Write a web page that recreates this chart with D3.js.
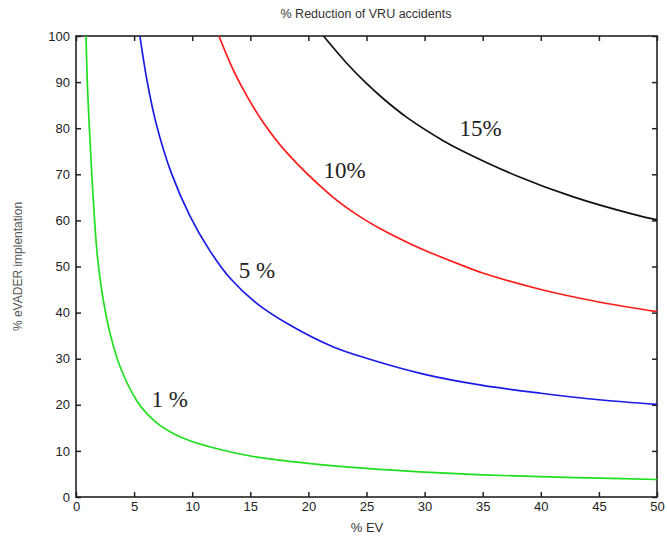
<!DOCTYPE html>
<html>
<head>
<meta charset="utf-8">
<script src="https://cdnjs.cloudflare.com/ajax/libs/d3/7.8.5/d3.min.js"></script>
<style>
  body { margin: 0; background: #fff; }
  .tick text { font-family: Arial, "Liberation Sans", sans-serif; font-size: 13px; fill: #222; }
</style>
</head>
<body>
<svg id="chart" width="667" height="547"></svg>
<script>
// curve data: [% EV, % eVADER implementation]
const curve1 = [[0.86,100],[0.97,90],[1.15,80],[1.36,70],[1.6,60],[1.85,52],[2.35,42.7],[2.93,35.5],[3.79,28.3],
  [5.2,21.0],[6.2,17.8],[7.2,15.6],[8.5,13.6],[9.8,12.2],[12.4,10.3],[15,8.9],[20,7.3],[25,6.2],[30,5.4],[35,4.8],
  [40,4.4],[45,4.1],[50,3.8]];
const curve5 = [[5.5,100],[6.1,90.5],[6.9,81],[8.2,70.3],[9.8,61],[11.5,53.5],[13.25,47.5],[15.55,42.0],[18.4,37.3],
  [22.1,32.6],[25,30.1],[30,26.6],[35,24.2],[40,22.5],[45,21.1],[50,20.1]];
const curve10 = [[12.3,100],[13.5,92.8],[14.7,87.0],[16.1,81.3],[18.1,74.8],[21.9,65.5],[24.2,61.2],[26.4,57.9],
  [28.7,55.0],[30.5,53.0],[33.9,49.6],[35,48.6],[40,45.0],[45,42.3],[50,40.2]];
const curve15 = [[21.3,100],[23.3,94.1],[25,89.7],[26.4,86.5],[28.5,82.3],[31.6,77.3],[33,75.4],[37.9,69.7],
  [42.8,65.1],[48,61.3],[50,60.1]];

const seriesNames = ["1 %", "5 %", "10%", "15%"];
const seriesColors = ["#1ee01e", "#1a1ae8", "#ff1a1a", "#111111"];
const seriesData = [curve1, curve5, curve10, curve15];
// label anchor positions in data units
const labelPos = [[6.5, 19.6], [14.0, 47.6], [21.3, 69.2], [33.0, 78.3]];

const xTicks = d3.range(0, 51, 5);
const yTicks = d3.range(0, 101, 10);

const margin = {top: 36, right: 10, bottom: 50, left: 76};
const width = 667, height = 547;

const svg = d3.select('#chart');

const x = d3.scaleLinear().domain([0, 50]).range([margin.left, width - margin.right]);
const y = d3.scaleLinear().domain([0, 100]).range([height - margin.bottom, margin.top]);

// axes with inward ticks
svg.append('g')
    .attr('transform', `translate(0, ${y(0)})`)
    .call(d3.axisBottom(x).tickValues(xTicks).tickSizeInner(-5).tickSizeOuter(0).tickPadding(5))
    .call(g => g.select('.domain').remove());
svg.append('g')
    .attr('transform', `translate(${x(0)}, 0)`)
    .call(d3.axisLeft(y).tickValues(yTicks).tickSizeInner(-5).tickSizeOuter(0).tickPadding(6))
    .call(g => g.select('.domain').remove());
svg.append('g')
    .attr('transform', `translate(0, ${y(100)})`)
    .call(d3.axisTop(x).tickValues(xTicks).tickSizeInner(-5).tickSizeOuter(0).tickFormat(''))
    .call(g => g.select('.domain').remove());
svg.append('g')
    .attr('transform', `translate(${x(50)}, 0)`)
    .call(d3.axisRight(y).tickValues(yTicks).tickSizeInner(-5).tickSizeOuter(0).tickFormat(''))
    .call(g => g.select('.domain').remove());

svg.selectAll('.tick line').attr('stroke', '#222').attr('stroke-width', 1.5);

// frame
svg.append('rect')
    .attr('x', x(0)).attr('y', y(100))
    .attr('width', x(50) - x(0)).attr('height', y(0) - y(100))
    .attr('fill', 'none').attr('stroke', '#222').attr('stroke-width', 1.6);

// curves
const line = d3.line()
    .x(d => x(d[0]))
    .y(d => y(d[1]))
    .curve(d3.curveCatmullRom.alpha(0.5));

svg.selectAll('.curve')
    .data(seriesData)
    .enter()
    .append('path')
    .attr('class', 'curve')
    .attr('d', d => line(d))
    .attr('fill', 'none')
    .attr('stroke', (d, i) => seriesColors[i])
    .attr('stroke-width', 1.7);

// curve labels
svg.selectAll('.curve-label')
    .data(seriesNames)
    .enter()
    .append('text')
    .attr('class', 'curve-label')
    .attr('x', (d, i) => x(labelPos[i][0]))
    .attr('y', (d, i) => y(labelPos[i][1]))
    .attr('font-family', '"Liberation Serif", "DejaVu Serif", serif')
    .attr('font-size', 23)
    .attr('fill', '#222')
    .text(d => d);

// title and axis labels
svg.append('text')
    .attr('x', 366).attr('y', 18)
    .attr('text-anchor', 'middle')
    .attr('font-family', 'Arial, "Liberation Sans", sans-serif')
    .attr('font-size', 12.5)
    .attr('fill', '#333')
    .text('% Reduction of VRU accidents');

svg.append('text')
    .attr('x', 367).attr('y', 532)
    .attr('text-anchor', 'middle')
    .attr('font-family', 'Arial, "Liberation Sans", sans-serif')
    .attr('font-size', 13)
    .attr('fill', '#333')
    .text('% EV');

svg.append('text')
    .attr('transform', `translate(22, ${(y(0) + y(100)) / 2}) rotate(-90)`)
    .attr('text-anchor', 'middle')
    .attr('font-family', 'Arial, "Liberation Sans", sans-serif')
    .attr('font-size', 12)
    .attr('fill', '#555')
    .text('% eVADER implentation');
</script>
</body>
</html>
